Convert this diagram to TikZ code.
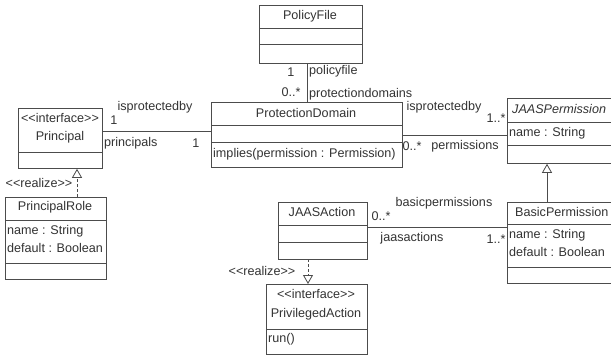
\documentclass[tikz,border=0pt]{standalone}
\usepackage{fontspec}
\setmainfont{Liberation Sans}
\usetikzlibrary{arrows.meta}

\newcommand{\stereo}[1]{<\kern0pt<#1>\kern0pt>}

\tikzset{
  cls/.style={draw=black!70, fill=white, rectangle, anchor=north west, inner sep=0pt, line width=0.8pt},
  txt/.style={font=\fontsize{12.6}{14}\selectfont, text=black!80, inner sep=0pt},
  conn/.style={draw=black!70, line width=0.8pt},
  realize/.style={conn, dash pattern=on 3pt off 2pt, -{Triangle[open, length=9pt, width=10pt]}},
  inherit/.style={conn, -{Triangle[open, length=9pt, width=10pt]}}
}

\begin{document}
\begin{tikzpicture}[x=1pt, y=-1pt]
\useasboundingbox (0,0) rectangle (611,356);

% Class boxes
\node[cls, minimum width=103pt, minimum height=58pt] (policyfile) at (259,5) {};
\draw[conn] (259,28) -- (362,28);
\draw[conn] (259,44) -- (362,44);

\node[cls, minimum width=191pt, minimum height=65pt] (domain) at (211,102) {};
\draw[conn] (211,125) -- (402,125);
\draw[conn] (211,142) -- (402,142);

\node[cls, minimum width=84pt, minimum height=60pt] (principal) at (18,108) {};
\draw[conn] (18,152) -- (102,152);

\node[cls, minimum width=101pt, minimum height=82pt] (principalrole) at (5,197) {};
\draw[conn] (5,220) -- (106,220);
\draw[conn] (5,263) -- (106,263);

\node[cls, minimum width=113pt, minimum height=65pt] (jaasperm) at (507,98) {};
\draw[conn] (507,122) -- (620,122);
\draw[conn] (507,145) -- (620,145);

\node[cls, minimum width=113pt, minimum height=81pt] (basicperm) at (507,202) {};
\draw[conn] (507,224) -- (620,224);
\draw[conn] (507,267) -- (620,267);

\node[cls, minimum width=89pt, minimum height=57pt] (action) at (278,202) {};
\draw[conn] (278,225) -- (367,225);
\draw[conn] (278,242) -- (367,242);

\node[cls, minimum width=101pt, minimum height=70pt] (privileged) at (266,284) {};
\draw[conn] (266,329) -- (367,329);

% Class texts
\node[txt] (pftitle) at (310,16) {PolicyFile};
\node[txt] (pdtitle) at (306,113) {ProtectionDomain};
\node[txt, anchor=west] (pdop) at (213,154) {implies(permission : Permission)};
\node[txt] (prstereo) at (60,118) {\stereo{interface}};
\node[txt] (prtitle) at (60,137) {Principal};
\node[txt] (prroletitle) at (55,207) {PrincipalRole};
\node[txt, anchor=west] (prrolename) at (7,231) {name : String};
\node[txt, anchor=west] (prroledef) at (7,248) {default : Boolean};
\node[txt, anchor=west, font=\fontsize{12.6}{14}\selectfont\itshape] (jptitle) at (512,109) {JAASPermission};
\node[txt, anchor=west] (jpname) at (509,133) {name : String};
\node[txt, anchor=west] (bptitle) at (515,212) {BasicPermission};
\node[txt, anchor=west] (bpname) at (509,235) {name : String};
\node[txt, anchor=west] (bpdef) at (509,252) {default : Boolean};
\node[txt] (jatitle) at (322,212) {JAASAction};
\node[txt] (pastereo) at (316,294) {\stereo{interface}};
\node[txt] (patitle) at (316,314) {PrivilegedAction};
\node[txt, anchor=west] (paop) at (268,339) {run()};

% Associations
\draw[conn] (policyfile.south -| domain.north) -- (domain.north);
\coordinate (pe) at ([yshift=7pt]principal.east);
\draw[conn] (pe) -- (pe -| domain.west);
\draw[conn] (domain.east) -- (domain.east -| jaasperm.west);
\coordinate (ae) at ([yshift=3.5pt]action.east);
\draw[conn] (ae) -- (ae -| basicperm.west);

% Generalization and realizations
\coordinate (gen) at (547,202);
\draw[inherit] (gen) -- (gen |- jaasperm.south);
\coordinate (rr) at (77,197);
\draw[realize] (rr) -- (rr |- principal.south);
\coordinate (ra) at (308,259);
\draw[realize] (ra) -- (ra |- privileged.north);

% Roles and multiplicities
\node[txt] (m1) at (291,72) {1};
\node[txt] (m2) at (291,92) {0..*};
\node[txt, anchor=west] (r1) at (309,71) {policyfile};
\node[txt, anchor=west] (r2) at (309,94) {protectiondomains};
\node[txt] (r3) at (155,107) {isprotectedby};
\node[txt] (m3) at (114,120) {1};
\node[txt, anchor=west] (r4) at (104,143) {principals};
\node[txt] (m4) at (196,143) {1};
\node[txt] (r5) at (444,107) {isprotectedby};
\node[txt] (m5) at (496,118) {1..*};
\node[txt] (m6) at (412,146) {0..*};
\node[txt] (r6) at (465,146) {permissions};
\node[txt] (m7) at (381,216) {0..*};
\node[txt] (r7) at (444,203) {basicpermissions};
\node[txt] (r8) at (412,238) {jaasactions};
\node[txt] (m8) at (496,239) {1..*};
\node[txt] (s1) at (39,183) {\stereo{realize}};
\node[txt] (s2) at (262,271) {\stereo{realize}};

\end{tikzpicture}
\end{document}
